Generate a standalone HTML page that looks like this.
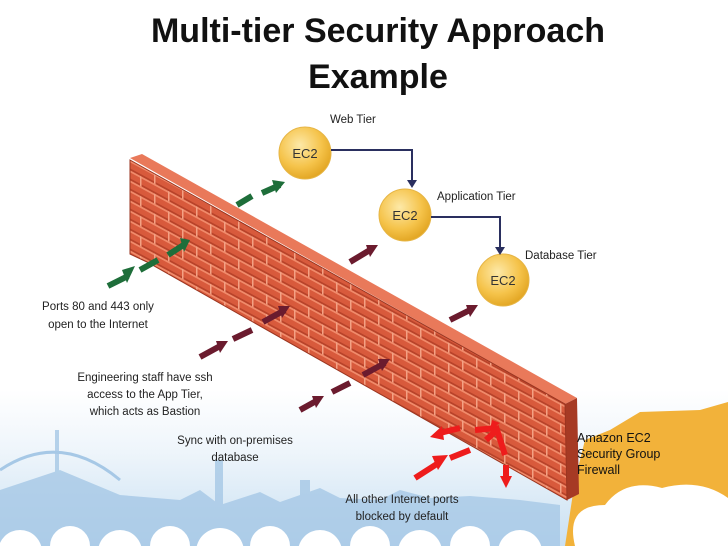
<!DOCTYPE html>
<html><head><meta charset="utf-8"><style>
body{margin:0;width:728px;height:546px;overflow:hidden;background:#fff;font-family:"Liberation Sans",sans-serif}
</style></head><body>
<svg width="728" height="546" viewBox="0 0 728 546" xmlns="http://www.w3.org/2000/svg">
<defs>
<linearGradient id="sky" x1="0" y1="0" x2="0" y2="1">
<stop offset="0" stop-color="#fff"/><stop offset="0.4" stop-color="#eef5fb"/><stop offset="1" stop-color="#c9e0f2"/>
</linearGradient>
<radialGradient id="ec" cx="0.4" cy="0.35" r="0.7">
<stop offset="0" stop-color="#fde9a8"/><stop offset="0.6" stop-color="#f5c34a"/><stop offset="1" stop-color="#e0a21e"/>
</radialGradient>
<pattern id="brick" width="28" height="20" patternUnits="userSpaceOnUse" patternTransform="skewY(28.4)">
<rect width="28" height="20" fill="#d85a3c"/>
<rect x="0" y="0" width="28" height="2" fill="#f08a6a"/>
<rect x="0" y="10" width="28" height="2" fill="#f08a6a"/>
<rect x="0" y="8" width="28" height="2" fill="#b8432a"/>
<rect x="0" y="18" width="28" height="2" fill="#b8432a"/>
<rect x="0" y="0" width="1.5" height="10" fill="#f3a184"/>
<rect x="14" y="10" width="1.5" height="10" fill="#f3a184"/>
</pattern>
</defs>
<rect x="0" y="390" width="728" height="156" fill="url(#sky)"/>
<!-- skyline -->
<g fill="#a6c8e6" opacity="0.8">
<path d="M0 490 L60 470 L120 495 L180 500 L200 490 L220 505 L260 492 L280 502 L320 488 L340 498 L380 500 L400 490 L430 498 L470 496 L520 500 L560 505 L560 546 L0 546Z"/>
<rect x="55" y="430" width="4" height="80"/><rect x="215" y="460" width="8" height="50"/>
<rect x="300" y="480" width="10" height="30"/>
</g>
<path d="M0 470 Q60 430 120 480" stroke="#a6c8e6" stroke-width="3" fill="none"/>
<g fill="#fff">
<circle cx="20" cy="552" r="22"/><circle cx="70" cy="546" r="20"/><circle cx="120" cy="552" r="22"/><circle cx="170" cy="546" r="20"/><circle cx="220" cy="552" r="24"/><circle cx="270" cy="546" r="20"/><circle cx="320" cy="552" r="22"/><circle cx="370" cy="546" r="20"/><circle cx="420" cy="552" r="22"/><circle cx="470" cy="546" r="20"/><circle cx="520" cy="552" r="22"/>
</g>
<!-- orange building -->
<path d="M575 480 L585 440 L610 430 L640 412 L700 410 L728 402 L728 546 L565 546Z" fill="#f2b23a"/>
<path d="M575 546 Q565 505 605 505 Q625 478 662 488 Q700 478 728 498 L728 546Z" fill="#fff"/>
<!-- wall -->
<polygon points="130,158 142,154 577,398 565,404" fill="#e9795a"/>
<polygon points="565,404 577,398 579,494 567,500" fill="#a63a24"/>
<polygon points="130,160 565,404 567,500 147,262 130,254" fill="url(#brick)"/>
<polygon points="130,160 565,404 567,500 147,262 130,254" fill="none" stroke="#9a3520" stroke-width="1"/>
<!-- EC2 nodes -->
<g font-size="13" text-anchor="middle" fill="#333">
<circle cx="305" cy="153" r="26" fill="url(#ec)" stroke="#e6b545"/><text x="305" y="158">EC2</text>
<circle cx="405" cy="215" r="26" fill="url(#ec)" stroke="#e6b545"/><text x="405" y="220">EC2</text>
<circle cx="503" cy="280" r="26" fill="url(#ec)" stroke="#e6b545"/><text x="503" y="285">EC2</text>
</g>
<g stroke="#2a2f5f" stroke-width="2" fill="none">
<polyline points="331,150 412,150 412,180"/><polyline points="431,217 500,217 500,247"/>
</g>
<g fill="#2a2f5f"><polygon points="407,180 417,180 412,188"/><polygon points="495,247 505,247 500,255"/></g>
<!-- arrows -->
<g stroke-width="6" fill="none">
<g stroke="#1e6e3a"><path d="M108 286 L128 276"/><path d="M140 270 L158 260"/><path d="M168 255 L185 244"/><path d="M237 205 L252 196"/><path d="M262 193 L280 185"/></g>
<g stroke="#6b1b2e"><path d="M200 357 L222 345"/><path d="M233 339 L252 330"/><path d="M263 322 L285 310"/><path d="M300 410 L318 400"/><path d="M332 392 L350 383"/><path d="M363 375 L385 363"/><path d="M350 262 L370 250"/><path d="M450 320 L470 310"/></g>
<g stroke="#ee1c1c"><path d="M415 478 L440 462"/><path d="M450 458 L470 450"/><path d="M440 433 L460 428"/><path d="M475 430 L497 428"/><path d="M486 440 L497 430 L505 455"/><path d="M506 465 L506 480"/></g>
</g>
<g>
<g fill="#1e6e3a"><polygon points="135,266 127,283 122,270"/><polygon points="190,240 184,252 180,238"/><polygon points="285,182 276,193 272,180"/></g>
<g fill="#6b1b2e"><polygon points="290,306 282,318 278,306"/><polygon points="390,359 382,371 378,359"/><polygon points="378,245 370,257 366,245"/><polygon points="478,305 470,317 466,305"/><polygon points="228,341 220,353 216,341"/><polygon points="324,396 316,408 312,396"/></g>
<g fill="#ee1c1c"><polygon points="448,455 438,470 432,456"/><polygon points="430,437 442,426 444,440"/><polygon points="506,488 500,476 512,476"/><polygon points="500,423 490,430 492,420"/></g>
</g>
<!-- text -->
<g font-size="34" font-weight="bold" text-anchor="middle" fill="#111">
<text x="378" y="42">Multi-tier Security Approach</text>
<text x="378" y="88">Example</text>
</g>
<g font-size="11.5" fill="#222">
<text x="330" y="123">Web Tier</text>
<text x="437" y="200">Application Tier</text>
<text x="525" y="259">Database Tier</text>
<text x="98" y="310" text-anchor="middle">Ports 80 and 443 only</text>
<text x="98" y="328" text-anchor="middle">open to the Internet</text>
<text x="145" y="381" text-anchor="middle">Engineering staff have ssh</text>
<text x="145" y="398" text-anchor="middle">access to the App Tier,</text>
<text x="145" y="415" text-anchor="middle">which acts as Bastion</text>
<text x="235" y="444" text-anchor="middle">Sync with on-premises</text>
<text x="235" y="461" text-anchor="middle">database</text>
<text x="402" y="503" text-anchor="middle">All other Internet ports</text>
<text x="402" y="520" text-anchor="middle">blocked by default</text>
</g>
<g font-size="12.5" fill="#111">
<text x="577" y="442">Amazon EC2</text><text x="577" y="458">Security Group</text><text x="577" y="474">Firewall</text>
</g>
</svg>
</body></html>
